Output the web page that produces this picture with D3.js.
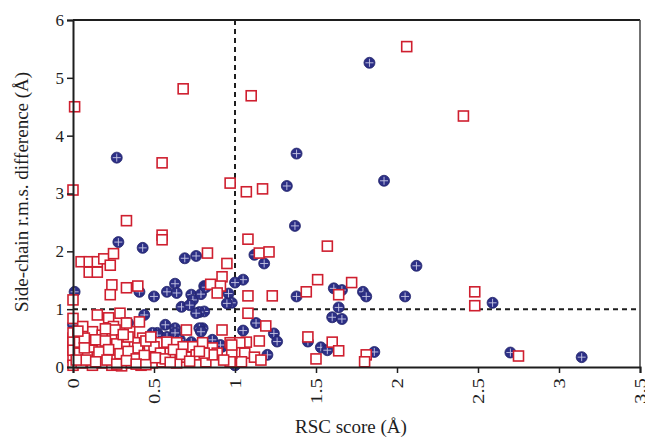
<!DOCTYPE html>
<html>
<head>
<meta charset="utf-8">
<script src="https://cdn.jsdelivr.net/npm/d3@7/dist/d3.min.js"></script>
<style>
  html, body { margin: 0; padding: 0; background: #fff; }
  svg { display: block; }
  text { font-family: "Liberation Serif", "DejaVu Serif", serif; fill: #1e1e1e; }
</style>
</head>
<body>
<svg id="chart" width="645" height="438"></svg>
<script>
// Axis ticks
const xTicks = [0, 0.5, 1, 1.5, 2, 2.5, 3, 3.5];
const xTickLabels = ["0", "0.5", "1", "1.5", "2", "2.5", "3", "3.5"];
const yTicks = [0, 1, 2, 3, 4, 5, 6];
const yTickLabels = ["0", "1", "2", "3", "4", "5", "6"];

// Cut-off lines
const rscCutoff = 1;
const rmsCutoff = 1;

// Open squares: [RSC score, side-chain r.m.s. difference]
const squarePoints = [
  [0.01, 4.50], [0.00, 3.06], [0.68, 4.81], [1.10, 4.69], [0.55, 3.53], [0.97, 3.18],
  [1.07, 3.03], [1.17, 3.08], [2.06, 5.54], [2.41, 4.34], [0.33, 2.53], [0.55, 2.28],
  [0.55, 2.20], [1.08, 2.21], [1.57, 2.09], [1.15, 1.97], [1.21, 1.99], [0.95, 1.79],
  [0.83, 1.97], [0.05, 1.82], [0.10, 1.82], [0.15, 1.82], [0.19, 1.87], [0.25, 1.96],
  [0.23, 1.76], [0.10, 1.64], [0.15, 1.64], [0.92, 1.56], [0.85, 1.43], [0.91, 1.40],
  [0.89, 1.28], [0.24, 1.42], [0.23, 1.25], [0.33, 1.37], [0.40, 1.40], [0.00, 1.16],
  [1.08, 1.23], [1.23, 1.23], [1.44, 1.30], [1.51, 1.51], [1.64, 1.25], [1.72, 1.46],
  [2.48, 1.30], [2.48, 1.06], [1.08, 0.93], [1.19, 0.71], [1.07, 0.43], [1.15, 0.45],
  [1.45, 0.52], [1.60, 0.43], [1.64, 0.28], [1.81, 0.21], [1.80, 0.09], [1.50, 0.14],
  [1.06, 0.24], [1.12, 0.17], [1.16, 0.12], [1.04, 0.09], [2.75, 0.19],
  [0.00, 0.84], [0.00, 0.50], [0.00, 0.35], [0.00, 0.17], [0.00, 0.03], [0.00, 0.59],
  [0.00, 0.43], [0.00, 0.29], [0.15, 0.90], [0.22, 0.85], [0.29, 0.93], [0.25, 0.70],
  [0.41, 0.78], [0.70, 0.64], [0.92, 0.64], [0.12, 0.61], [0.18, 0.55], [0.26, 0.64],
  [0.35, 0.61], [0.43, 0.50], [0.47, 0.29], [0.30, 0.47], [0.04, 0.43], [0.09, 0.42],
  [0.12, 0.29], [0.18, 0.35], [0.23, 0.38], [0.28, 0.29], [0.33, 0.35], [0.38, 0.42],
  [0.04, 0.24], [0.09, 0.17], [0.15, 0.17], [0.21, 0.21], [0.26, 0.12], [0.31, 0.17],
  [0.36, 0.21], [0.41, 0.24], [0.46, 0.12], [0.05, 0.07], [0.12, 0.03], [0.18, 0.07],
  [0.24, 0.03], [0.30, 0.02], [0.36, 0.07], [0.42, 0.03], [0.49, 0.07], [0.52, 0.42],
  [0.33, 0.76], [0.50, 0.35], [0.58, 0.43], [0.64, 0.42], [0.68, 0.35], [0.74, 0.35],
  [0.81, 0.33], [0.86, 0.33], [0.97, 0.42], [0.54, 0.24], [0.60, 0.24], [0.70, 0.17],
  [0.76, 0.21], [0.89, 0.24], [0.98, 0.24], [0.82, 0.09], [0.55, 0.09], [0.64, 0.07],
  [0.97, 0.09], [1.03, 0.42], [0.80, 0.42], [0.98, 0.38], [0.86, 0.21], [0.81, 0.24],
  [0.07, 0.50], [0.14, 0.47], [0.20, 0.45], [0.27, 0.40], [0.34, 0.52], [0.40, 0.33],
  [0.45, 0.45], [0.07, 0.33], [0.16, 0.26], [0.22, 0.30], [0.29, 0.23], [0.34, 0.27],
  [0.39, 0.14], [0.44, 0.20], [0.08, 0.12], [0.14, 0.09], [0.21, 0.12], [0.27, 0.05],
  [0.33, 0.11], [0.39, 0.05], [0.45, 0.04], [0.51, 0.16], [0.57, 0.14], [0.62, 0.30],
  [0.67, 0.22], [0.72, 0.10], [0.78, 0.27], [0.06, 0.70], [0.20, 0.66], [0.31, 0.56],
  [0.48, 0.52], [0.60, 0.08], [0.93, 0.12], [0.02, 0.12], [0.03, 0.62]
];

// Crossed circles: [RSC score, side-chain r.m.s. difference]
const circlePoints = [
  [0.27, 3.62], [1.38, 3.69], [1.32, 3.13], [1.92, 3.22], [1.37, 2.44], [1.83, 5.26],
  [0.28, 2.16], [0.43, 2.06], [2.12, 1.75], [2.05, 1.22], [2.59, 1.11], [2.70, 0.25],
  [3.14, 0.17], [1.38, 1.22], [1.61, 1.36], [1.66, 1.33], [1.79, 1.30], [1.81, 1.22],
  [1.64, 1.03], [1.60, 0.86], [1.66, 0.83], [1.13, 0.76], [1.05, 0.63], [1.24, 0.58],
  [1.26, 0.44], [1.45, 0.44], [1.53, 0.34], [1.57, 0.29], [1.86, 0.26], [1.20, 0.21],
  [1.12, 1.94], [1.18, 1.79], [1.05, 1.51], [1.00, 1.46], [0.81, 1.40], [0.96, 1.27],
  [0.98, 1.11], [0.81, 0.96], [0.80, 0.67], [0.86, 0.47], [0.92, 0.35], [1.00, 0.03],
  [0.69, 1.88], [0.76, 1.92], [0.01, 1.30], [0.50, 1.22], [0.41, 1.30], [0.58, 1.30],
  [0.63, 1.44], [0.64, 1.28], [0.73, 1.25], [0.74, 1.16], [0.79, 1.26], [0.82, 1.38],
  [0.00, 0.73], [0.44, 0.90], [0.34, 0.76], [0.57, 0.73], [0.63, 0.67], [0.52, 0.59],
  [0.54, 0.52], [0.67, 1.04], [0.72, 1.07], [0.78, 0.95], [0.76, 0.93], [0.78, 0.67],
  [0.79, 0.61], [0.49, 0.59], [0.52, 0.55], [0.58, 0.52], [0.63, 0.59], [0.66, 0.47],
  [0.73, 0.43], [0.91, 0.38], [0.95, 1.10]
];

const svg = d3.select("#chart");
const margin = { left: 73, right: 5, top: 20, bottom: 71 };
const W = 645, H = 438;

const x = d3.scaleLinear().domain([0, 3.5]).range([margin.left, W - margin.right]);
const y = d3.scaleLinear().domain([0, 6]).range([H - margin.bottom, margin.top]);

const squareColor = "#cf1f2f";
const circleFill = "#2c2f86";
const ink = "#1e1e1e";

// Cut-off dashed lines
svg.append("line")
  .attr("x1", x(0)).attr("x2", x(3.5))
  .attr("y1", y(rmsCutoff)).attr("y2", y(rmsCutoff))
  .attr("stroke", ink).attr("stroke-width", 2).attr("stroke-dasharray", "5,4");
svg.append("line")
  .attr("x1", x(rscCutoff)).attr("x2", x(rscCutoff))
  .attr("y1", y(0)).attr("y2", y(6))
  .attr("stroke", ink).attr("stroke-width", 2).attr("stroke-dasharray", "5,4");

// Crossed circles
const cs = 5.5;
const circles = svg.append("g").selectAll("g").data(circlePoints).join("g")
  .attr("transform", d => `translate(${x(d[0])},${y(d[1])})`);
circles.append("circle").attr("r", cs)
  .attr("fill", circleFill).attr("stroke", "#23256b").attr("stroke-width", 0.8);
circles.append("path")
  .attr("d", `M${-cs + 1.5},0H${cs - 1.5}M0,${-cs + 1.5}V${cs - 1.5}`)
  .attr("stroke", "#c8c8e6").attr("stroke-width", 0.9);

// Open squares
const ss = 10;
svg.append("g").selectAll("rect").data(squarePoints).join("rect")
  .attr("x", d => x(d[0]) - ss / 2)
  .attr("y", d => y(d[1]) - ss / 2)
  .attr("width", ss).attr("height", ss)
  .attr("fill", "#fff")
  .attr("stroke", squareColor).attr("stroke-width", 1.6);

// Frame (top and right)
svg.append("line").attr("x1", x(0)).attr("x2", x(3.5)).attr("y1", y(6)).attr("y2", y(6))
  .attr("stroke", ink).attr("stroke-width", 2);
svg.append("line").attr("x1", x(3.5)).attr("x2", x(3.5)).attr("y1", y(6)).attr("y2", y(0))
  .attr("stroke", "#444").attr("stroke-width", 1.5);

// Y axis
const yAxis = svg.append("g")
  .attr("transform", `translate(${x(0)},0)`)
  .call(d3.axisLeft(y).tickValues(yTicks).tickFormat((d, i) => yTickLabels[i]).tickSize(6).tickPadding(3));
yAxis.select(".domain").attr("stroke", ink).attr("stroke-width", 2);
yAxis.selectAll(".tick line").attr("stroke", ink).attr("stroke-width", 1.5);
yAxis.selectAll(".tick text")
  .attr("font-family", "Liberation Serif, serif").attr("font-size", 17).attr("fill", ink);

// X axis with rotated labels
const xAxis = svg.append("g")
  .attr("transform", `translate(0,${y(0)})`)
  .call(d3.axisBottom(x).tickValues(xTicks).tickFormat((d, i) => xTickLabels[i]).tickSize(6));
xAxis.select(".domain").attr("stroke", ink).attr("stroke-width", 2);
xAxis.selectAll(".tick line").attr("stroke", ink).attr("stroke-width", 1.5);
xAxis.selectAll(".tick text")
  .attr("font-family", "Liberation Serif, serif").attr("font-size", 16).attr("fill", ink)
  .attr("text-anchor", "end")
  .attr("dy", "0.35em")
  .attr("transform", "translate(0,11) rotate(-90) scale(1.3,1)")
  .attr("x", 0).attr("y", 0);

// Axis titles
svg.append("text")
  .attr("x", 351).attr("y", 433)
  .attr("text-anchor", "middle").attr("font-size", 19)
  .text("RSC score (Å)");
svg.append("text")
  .attr("transform", "translate(28,192) rotate(-90)")
  .attr("text-anchor", "middle").attr("font-size", 19)
  .text("Side-chain r.m.s. difference (Å)");
</script>
</body>
</html>
